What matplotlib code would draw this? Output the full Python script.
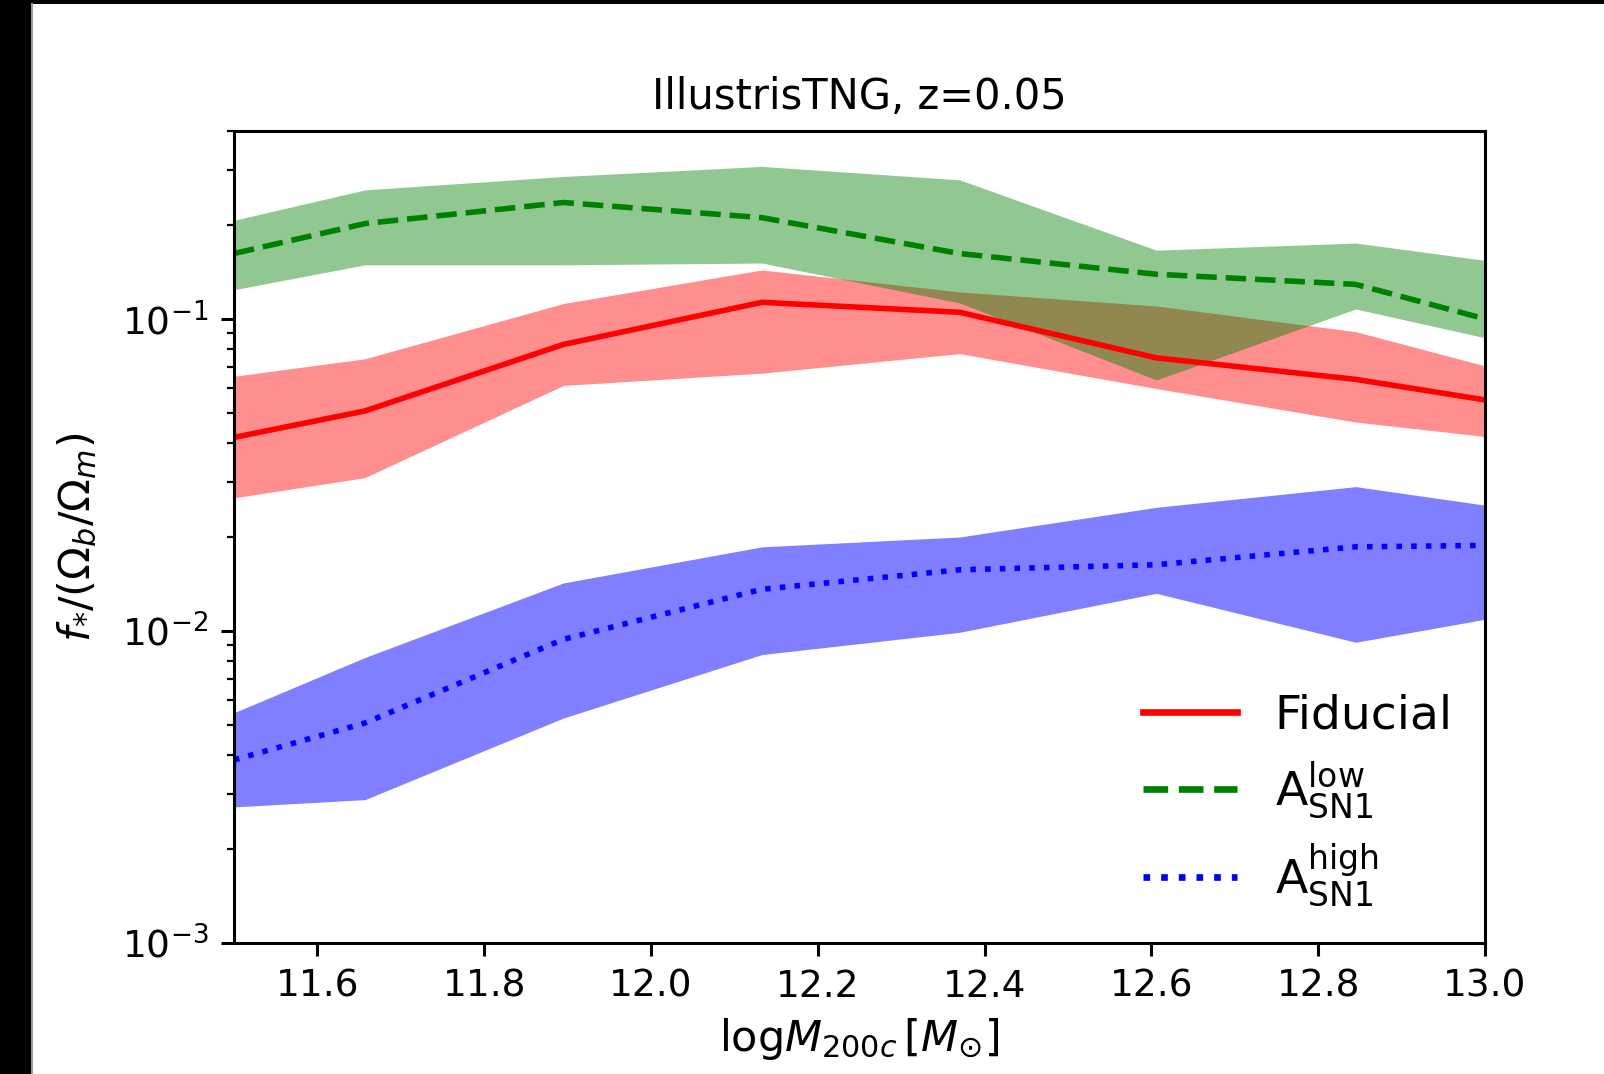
import numpy as np
import matplotlib
matplotlib.use('Agg')
import matplotlib.pyplot as plt
from matplotlib.patches import Rectangle
from matplotlib.lines import Line2D

# halo mass bin centres (log M200c)
log_m = [11.5, 11.657, 11.895, 12.133, 12.370, 12.606, 12.845, 13.0]

# Fiducial: median and 16-84 band
fid_med = [0.0417, 0.0507, 0.0828, 0.113, 0.105, 0.075, 0.064, 0.055]
fid_hi = [0.0655, 0.0745, 0.112, 0.1435, 0.122, 0.110, 0.091, 0.0707]
fid_lo = [0.0267, 0.031, 0.0612, 0.067, 0.0774, 0.0598, 0.0467, 0.042]

# A_SN1 low
low_med = [0.162, 0.202, 0.236, 0.211, 0.162, 0.139, 0.129, 0.100]
low_hi = [0.207, 0.259, 0.286, 0.308, 0.279, 0.166, 0.175, 0.154]
low_lo = [0.124, 0.149, 0.149, 0.151, 0.1125, 0.0637, 0.1076, 0.087]

# A_SN1 high
high_med = [0.00386, 0.00507, 0.0094, 0.0136, 0.0157, 0.0163, 0.0186, 0.0188]
high_hi = [0.00547, 0.00822, 0.01425, 0.0186, 0.020, 0.0249, 0.029, 0.0253]
high_lo = [0.00273, 0.00288, 0.00526, 0.0084, 0.0099, 0.0132, 0.0092, 0.0109]

W, H = 1604, 1074
fig = plt.figure(figsize=(W/100, H/100), dpi=100, facecolor='black')
# white page with black strip on left/top
fig.patches.append(Rectangle((31/W, 0), 1 - 31/W, 1 - 4/H, transform=fig.transFigure,
                             facecolor='white', edgecolor='none', zorder=-1))
fig.lines.append(Line2D([31.5/W, 31.5/W], [0, 1 - 4/H], transform=fig.transFigure,
                        color='#999999', lw=1.5))

ax = fig.add_axes([234/W, 1 - 943/H, (1485 - 234)/W, (943 - 131)/H])

ax.fill_between(log_m, fid_lo, fid_hi, color='red', alpha=0.44, linewidth=0)
ax.fill_between(log_m, low_lo, low_hi, color='green', alpha=0.43, linewidth=0)
ax.fill_between(log_m, high_lo, high_hi, color='blue', alpha=0.5, linewidth=0)

ax.plot(log_m, fid_med, color='red', lw=4, ls='-', label='Fiducial')
ax.plot(log_m, low_med, color='green', lw=4, ls='--', label=r'A$_{\rm SN1}^{\rm low}$')
ax.plot(log_m, high_med, color='blue', lw=4, ls=':', label=r'A$_{\rm SN1}^{\rm high}$')

ax.set_yscale('log')
ax.set_xlim(11.5, 13.0)
ax.set_ylim(1e-3, 0.4)

ax.set_title('IllustrisTNG, z=0.05', fontsize=30, pad=16)
ax.set_xlabel(r'log$M_{200c}\,[M_{\odot}]$', fontsize=31, labelpad=8)
ax.set_ylabel(r'$f_{*}/(\Omega_b/\Omega_m)$', fontsize=31, labelpad=16)

for s in ax.spines.values():
    s.set_linewidth(2.2)
ax.tick_params(which='major', length=9.5, width=2.2, labelsize=27, pad=9)
ax.tick_params(which='minor', length=5.4, width=1.6)

leg = ax.legend(loc='lower right', frameon=False, fontsize=34, borderaxespad=0.6,
                labelspacing=0.43, bbox_to_anchor=(1.012, -0.017))
for h in leg.get_lines():
    h.set_linewidth(4.8)

fig.savefig('out.png', dpi=100, facecolor=fig.get_facecolor())
